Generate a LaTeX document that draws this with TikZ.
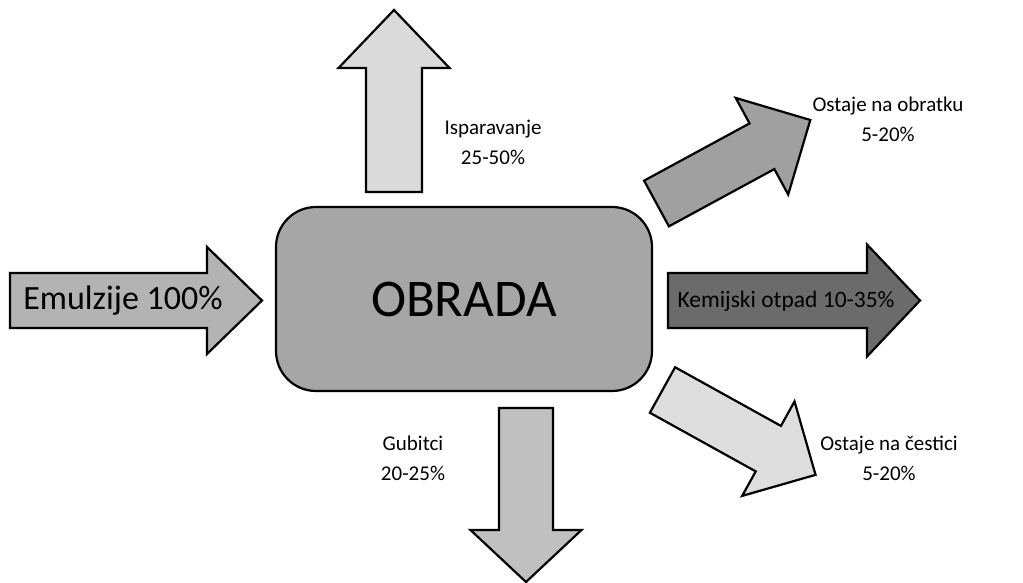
\documentclass[tikz,border=0pt]{standalone}
\usepackage{fontspec}
\setmainfont{Carlito}
\newcommand\fatarrow[8]{%
  \begin{scope}[shift={(#1,#2)},rotate=#3]
    \draw[arrowstyle,fill=#8] (0,-#6) -- (#5,-#6) -- (#5,-#7) -- (#4,0) -- (#5,#7) -- (#5,#6) -- (0,#6) -- cycle;
  \end{scope}}
\definecolor{cBox}{HTML}{A6A6A6}
\definecolor{cEmu}{HTML}{B3B3B3}
\definecolor{cUp}{HTML}{DADADA}
\definecolor{cUR}{HTML}{A0A0A0}
\definecolor{cKem}{HTML}{6B6B6B}
\definecolor{cLR}{HTML}{DEDEDE}
\definecolor{cDn}{HTML}{C0C0C0}
\tikzset{
  arrowstyle/.style={draw=black,line width=2.2pt,line join=miter},
  lbl/.style={align=center,font=\fontsize{21}{30}\selectfont,inner sep=0pt},
}
\begin{document}
\begin{tikzpicture}[x=1pt,y=-1pt]
\useasboundingbox[fill=white] (0,0) rectangle (1023,583);
% arrows
\fatarrow{10}{300.5}{0}{252}{197}{27.5}{53.5}{cEmu}
\fatarrow{394}{192}{90}{182}{124}{28}{55.5}{cUp}
\fatarrow{668}{300.5}{0}{252}{199}{27.5}{56}{cKem}
\fatarrow{526}{408}{-90}{174}{122}{27}{55.5}{cDn}
\fatarrow{656.5}{203.5}{28.5}{175}{120}{26}{55}{cUR}
\fatarrow{662.5}{390}{-29}{175}{121}{26}{54}{cLR}
% central box
\node[draw=black,line width=2.2pt,fill=cBox,rounded corners=40pt,minimum width=376pt,minimum height=184pt,font=\fontsize{53}{60}\selectfont] (obrada) at (464,299) {OBRADA};
% texts
\node[font=\fontsize{34}{38}\selectfont,inner sep=0pt] (emu) at (123,301) {Emulzije 100\%};
\node[font=\fontsize{23.5}{26}\selectfont,inner sep=0pt] (kem) at (786,301) {Kemijski otpad 10-35\%};
\node[lbl] (isp) at (493,142) {Isparavanje\\25-50\%};
\node[lbl] (obr) at (888,119) {Ostaje na obratku\\5-20\%};
\node[lbl] (ces) at (889,458) {Ostaje na čestici\\5-20\%};
\node[lbl] (gub) at (413,458) {Gubitci\\20-25\%};
\end{tikzpicture}
\end{document}
